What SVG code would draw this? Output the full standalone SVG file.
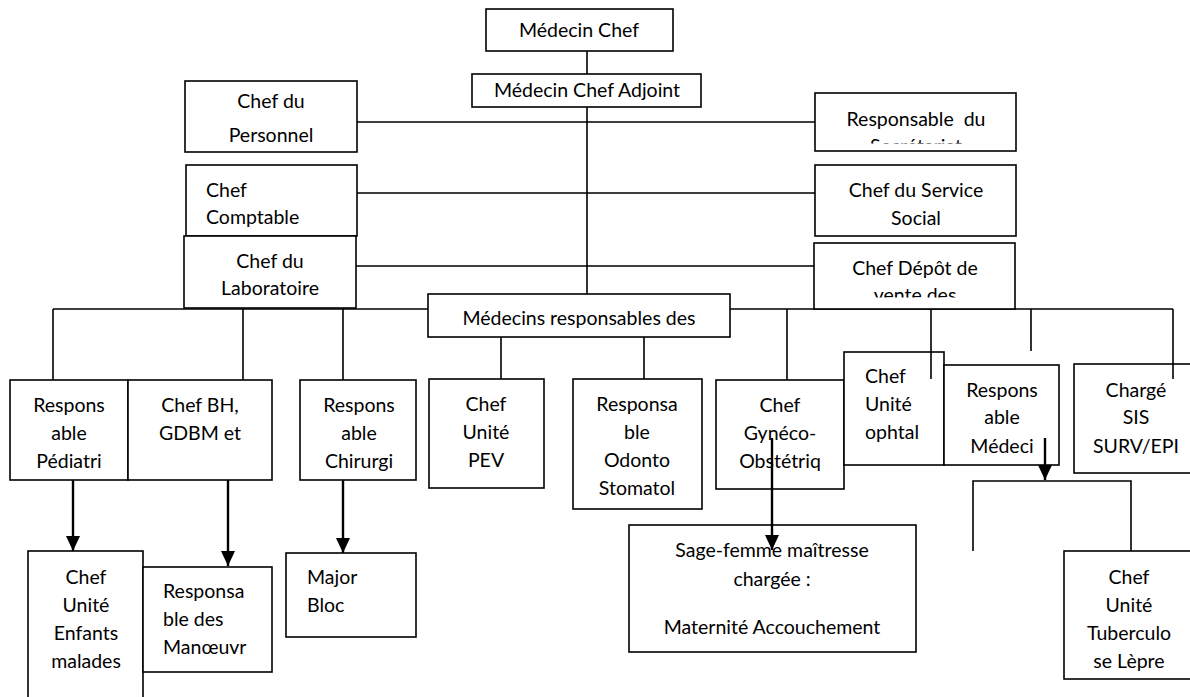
<svg xmlns="http://www.w3.org/2000/svg" width="1190" height="697" viewBox="0 0 1190 697">
<style>
.b{fill:#fff;stroke:#000;stroke-width:1.6}
.t{font-family:Lato,"Liberation Sans",sans-serif;font-size:19.5px;fill:#000;text-anchor:middle}
.l{text-anchor:start}
.c{fill:none;stroke:#000;stroke-width:1.6}
.a{fill:none;stroke:#000;stroke-width:2.4;marker-end:url(#ah)}
</style>
<defs>
<marker id="ah" markerUnits="userSpaceOnUse" markerWidth="14" markerHeight="15" refX="15" refY="7" orient="auto"><path d="M0,0 L15,7 L0,14 z" fill="#000"/></marker>
<clipPath id="cp1"><rect x="815" y="93" width="201" height="50.5"/></clipPath>
<clipPath id="cp2"><rect x="814" y="243" width="201" height="54.5"/></clipPath>
</defs>
<rect width="1190" height="697" fill="#fff"/>
<g id="connectors-back">
<path class="c" d="M587,51 V74 M587,107 V294 M357,122 H815 M357,193 H815 M356,266 H814 M53,309 H428 M730,309 H1173 M53,309 V380 M243,309 V380 M343,309 V380 M501,337 V379 M644,337 V379 M787,309 V380 M1031,309 V351 M973,551 V481 H1131 V551"/>
</g>
<g id="n-medecin-chef"><rect class="b" x="486" y="9" width="187" height="42"/><text class="t" x="579" y="37">Médecin Chef</text></g>
<g id="n-adjoint"><rect class="b" x="472" y="74" width="229" height="33"/><text class="t" x="587" y="97">Médecin Chef Adjoint</text></g>
<g id="n-personnel"><rect class="b" x="185" y="81" width="172" height="71"/><text class="t" x="271" y="108">Chef du</text><text class="t" x="271" y="142">Personnel</text></g>
<g id="n-responsable-du"><rect class="b" x="815" y="93" width="201" height="58"/><g clip-path="url(#cp1)"><text class="t" x="916" y="126" xml:space="preserve">Responsable  du</text><text class="t" x="916" y="153">Secrétariat</text></g></g>
<g id="n-comptable"><rect class="b" x="186" y="165" width="171" height="71"/><text class="t l" x="206" y="197">Chef</text><text class="t l" x="206" y="224">Comptable</text></g>
<g id="n-service-social"><rect class="b" x="815" y="165" width="201" height="71"/><text class="t" x="916" y="197">Chef du Service</text><text class="t" x="916" y="225">Social</text></g>
<g id="n-laboratoire"><rect class="b" x="184" y="236" width="172" height="72"/><text class="t" x="270" y="268">Chef du</text><text class="t" x="270" y="295">Laboratoire</text></g>
<g id="n-depot"><rect class="b" x="814" y="243" width="201" height="66"/><g clip-path="url(#cp2)"><text class="t" x="915" y="275">Chef Dépôt de</text><text class="t" x="915" y="302">vente des</text></g></g>
<g id="n-medecins-resp"><rect class="b" x="428" y="294" width="302" height="43"/><text class="t" x="579" y="325">Médecins responsables des</text></g>
<g id="n-pediatrie"><rect class="b" x="10" y="380" width="118" height="100"/><text class="t" x="69" y="412">Respons</text><text class="t" x="69" y="440">able</text><text class="t" x="69" y="468">Pédiatri</text></g>
<g id="n-bh"><rect class="b" x="128" y="380" width="144" height="100"/><text class="t" x="200" y="412">Chef BH,</text><text class="t" x="200" y="440">GDBM et</text></g>
<g id="n-chirurgie"><rect class="b" x="300" y="380" width="116" height="100"/><text class="t" x="359" y="412">Respons</text><text class="t" x="359" y="440">able</text><text class="t" x="359" y="468">Chirurgi</text></g>
<g id="n-pev"><rect class="b" x="429" y="379" width="115" height="109"/><text class="t" x="486" y="411">Chef</text><text class="t" x="486" y="439">Unité</text><text class="t" x="486" y="467">PEV</text></g>
<g id="n-odonto"><rect class="b" x="573" y="379" width="129" height="130"/><text class="t" x="637" y="411">Responsa</text><text class="t" x="637" y="439">ble</text><text class="t" x="637" y="467">Odonto</text><text class="t" x="637" y="495">Stomatol</text></g>
<g id="n-gyneco"><rect class="b" x="716" y="380" width="128" height="109"/><text class="t" x="780" y="412">Chef</text><text class="t" x="780" y="440">Gynéco-</text><text class="t" x="780" y="468">Obstétriq</text></g>
<g id="n-ophtal"><rect class="b" x="844" y="352" width="100" height="113"/><text class="t l" x="865" y="383">Chef</text><text class="t l" x="865" y="411">Unité</text><text class="t l" x="865" y="439">ophtal</text></g>
<g id="n-medecine"><rect class="b" x="944" y="365" width="115" height="100"/><text class="t" x="1002" y="397">Respons</text><text class="t" x="1002" y="424">able</text><text class="t" x="1002" y="453">Médeci</text></g>
<g id="n-sis"><rect class="b" x="1074" y="364" width="124" height="109"/><text class="t" x="1136" y="397">Chargé</text><text class="t" x="1136" y="424">SIS</text><text class="t" x="1136" y="453">SURV/EPI</text></g>
<g id="n-enfants"><rect class="b" x="28" y="551" width="115" height="150"/><text class="t" x="86" y="584">Chef</text><text class="t" x="86" y="612">Unité</text><text class="t" x="86" y="640">Enfants</text><text class="t" x="86" y="668">malades</text></g>
<g id="n-manoeuvres"><rect class="b" x="143" y="567" width="129" height="105"/><text class="t l" x="163" y="598">Responsa</text><text class="t l" x="163" y="626">ble des</text><text class="t l" x="163" y="654">Manœuvr</text></g>
<g id="n-major-bloc"><rect class="b" x="286" y="553" width="130" height="84"/><text class="t l" x="307" y="584">Major</text><text class="t l" x="307" y="612">Bloc</text></g>
<g id="n-sage-femme"><rect class="b" x="629" y="525" width="287" height="127"/><text class="t" x="772" y="557">Sage-femme maîtresse</text><text class="t" x="772" y="586">chargée :</text><text class="t" x="772" y="634">Maternité Accouchement</text></g>
<g id="n-tuberculose"><rect class="b" x="1064" y="551" width="134" height="128"/><text class="t" x="1129" y="584">Chef</text><text class="t" x="1129" y="612">Unité</text><text class="t" x="1129" y="640">Tuberculo</text><text class="t" x="1129" y="668">se Lèpre</text></g>
<g id="connectors">
<path class="c" d="M931,309 V379 M1173,309 V379"/>
<line class="a" x1="73" y1="480" x2="73" y2="551"/>
<line class="a" x1="228" y1="480" x2="228" y2="566"/>
<line class="a" x1="343" y1="480" x2="343" y2="553"/>
<line class="a" x1="772" y1="438" x2="772" y2="550"/>
<line class="a" x1="1045" y1="438" x2="1045" y2="480"/>
</g>
</svg>
